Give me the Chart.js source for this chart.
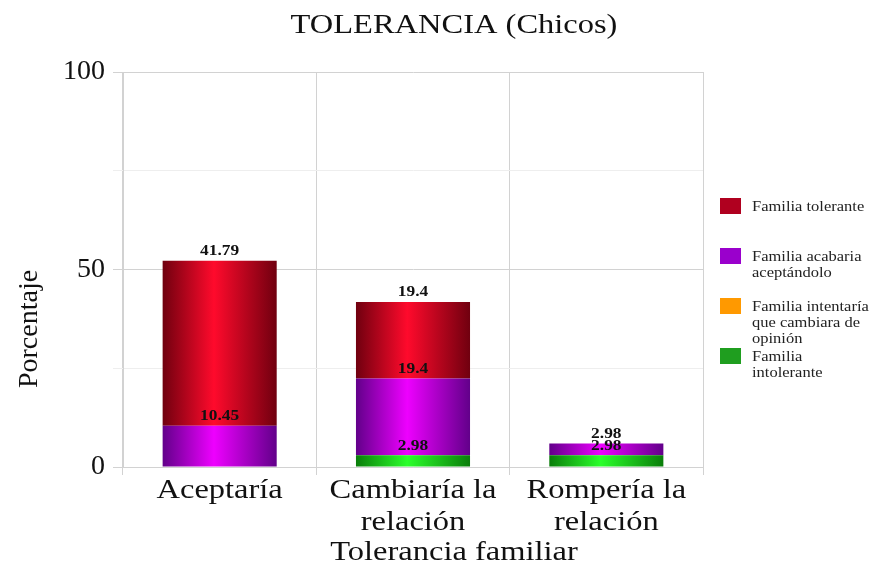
<!DOCTYPE html>
<html>
<head>
<meta charset="utf-8">
<script src="https://cdn.jsdelivr.net/npm/chart.js@4/dist/chart.umd.min.js"></script>
<style>
  body { margin: 0; background: #fff; }
  #caja { position: relative; width: 874px; height: 576px; }
  #leyenda { position: absolute; left: 720px; top: 198px; font-family: "Liberation Serif", "Times New Roman", serif; font-size: 15px; line-height: 16px; color: #222; }
  .item { display: flex; align-items: flex-start; height: 50px; }
  .cuadro { width: 21px; height: 16px; flex: none; }
  .texto { margin-left: 11px; white-space: pre-line; transform: scaleX(1.1); transform-origin: left top; }
</style>
</head>
<body>
<div id="caja">
  <canvas id="grafico"></canvas>
  <div id="leyenda"></div>
</div>
<script>
// Datos (porcentajes)
const categorias = ['Aceptaría', ['Cambiaría la', 'relación'], ['Rompería la', 'relación']];
const intolerante = [0, 2.98, 2.98];
const intentaria = [0, 0, 0];
const acabaria = [10.45, 19.4, 2.98];
const tolerante = [41.79, 19.4, 0];
const ticksY = [0, 50, 100];

const nombres = ['Familia\nintolerante', 'Familia intentaría\nque cambiara de\nopinión', 'Familia acabaria\naceptándolo', 'Familia tolerante'];
const coloresLeyenda = ['#1f9e1f', '#ff9900', '#9a00cc', '#b0001f'];
// [borde oscuro, centro brillante]
const degradados = [['#0a7d0a', '#2bff2b'], ['#cc6a00', '#ffaa22'], ['#62008a', '#ee00ff'], ['#70000f', '#ff0a2c']];

const serif = '"Liberation Serif", "Times New Roman", serif';
const estirar = 1.16; // el original tiene el texto algo ensanchado

// Relleno con degradado horizontal, como barras cilíndricas
function relleno(i) {
  return function(ctx) {
    const chart = ctx.chart;
    const x = chart.scales.x;
    if (!x || ctx.dataIndex === undefined) return coloresLeyenda[i];
    const centro = x.getPixelForValue(ctx.dataIndex);
    const ancho = x.width / categorias.length * 0.59;
    if (!isFinite(centro) || !isFinite(ancho) || ancho <= 0) return coloresLeyenda[i];
    const g = chart.ctx.createLinearGradient(centro - ancho / 2, 0, centro + ancho / 2, 0);
    g.addColorStop(0, degradados[i][0]);
    g.addColorStop(0.45, degradados[i][1]);
    g.addColorStop(1, degradados[i][0]);
    return g;
  };
}

function texto(ctx, t, x, y, font) {
  ctx.save();
  ctx.font = font;
  ctx.translate(x, y);
  ctx.scale(estirar, 1);
  ctx.fillText(t, 0, 0);
  ctx.restore();
}

// Etiquetas con el valor encima de cada tramo
const etiquetas = {
  id: 'etiquetas',
  afterDatasetsDraw(chart) {
    const ctx = chart.ctx;
    ctx.save();
    ctx.fillStyle = '#111';
    ctx.textAlign = 'center';
    ctx.textBaseline = 'bottom';
    chart.data.datasets.forEach((ds, i) => {
      chart.getDatasetMeta(i).data.forEach((barra, j) => {
        const v = ds.data[j];
        if (!v) return;
        texto(ctx, String(v), barra.x, barra.y - 2, 'bold 15px ' + serif);
      });
    });
    ctx.restore();
  }
};

// Título, categorías y títulos de ejes
const textos = {
  id: 'textos',
  afterDraw(chart) {
    const ctx = chart.ctx;
    const x = chart.scales.x;
    ctx.save();
    ctx.fillStyle = '#111';
    ctx.textAlign = 'center';
    ctx.textBaseline = 'middle';
    texto(ctx, 'TOLERANCIA (Chicos)', 454, 26, '28px ' + serif);
    categorias.forEach((c, i) => {
      const lineas = Array.isArray(c) ? c : [c];
      lineas.forEach((l, k) => texto(ctx, l, x.getPixelForValue(i), x.top + 24 + k * 32, '28px ' + serif));
    });
    texto(ctx, 'Tolerancia familiar', 454, 553, '28px ' + serif);
    ctx.translate(30, 329);
    ctx.rotate(-Math.PI / 2);
    ctx.font = '28px ' + serif;
    ctx.fillText('Porcentaje', 0, 0);
    ctx.restore();
  }
};

const datasets = [intolerante, intentaria, acabaria, tolerante].map((valores, i) => ({
  label: nombres[i],
  data: valores,
  backgroundColor: relleno(i),
  borderWidth: 0,
  categoryPercentage: 1,
  barPercentage: 0.59
}));

new Chart(document.getElementById('grafico'), {
  type: 'bar',
  data: { labels: categorias, datasets: datasets },
  options: {
    responsive: true,
    maintainAspectRatio: false,
    animation: false,
    layout: { padding: { top: 72, right: 171, bottom: 0, left: 0 } },
    plugins: {
      legend: { display: false },
      tooltip: { enabled: false }
    },
    scales: {
      x: {
        stacked: true,
        afterFit: s => { s.height = 109; },
        grid: { offset: true, color: '#d2d2d2', tickLength: 8 },
        border: { color: '#d2d2d2' },
        ticks: { display: false }
      },
      y: {
        stacked: true,
        min: 0,
        max: 100,
        afterFit: s => { s.width = 123; },
        grid: {
          color: c => (c.tick && ticksY.includes(c.tick.value) ? '#d2d2d2' : '#eeeeee'),
          tickLength: 10
        },
        border: { color: '#d2d2d2' },
        ticks: {
          stepSize: 25,
          padding: 8,
          color: '#111',
          font: { family: serif, size: 28 },
          callback: v => (ticksY.includes(v) ? v : '')
        }
      }
    }
  },
  plugins: [etiquetas, textos]
});

// Leyenda en HTML (de arriba abajo: orden inverso de apilado)
const leyenda = document.getElementById('leyenda');
for (let i = nombres.length - 1; i >= 0; i--) {
  const item = document.createElement('div');
  item.className = 'item';
  item.innerHTML = '<span class="cuadro" style="background:' + coloresLeyenda[i] + '"></span><span class="texto"></span>';
  item.querySelector('.texto').textContent = nombres[i];
  leyenda.appendChild(item);
}
</script>
</body>
</html>
